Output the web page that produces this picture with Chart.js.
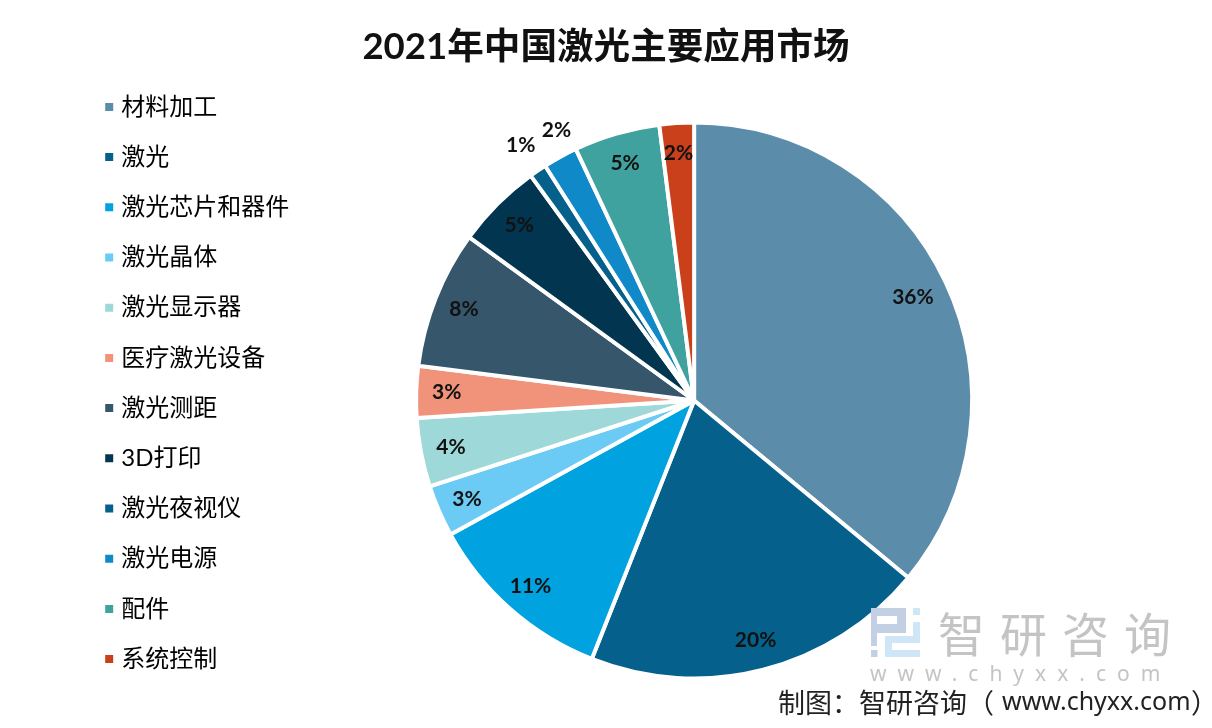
<!DOCTYPE html>
<html lang="zh">
<head>
<meta charset="utf-8">
<title>2021年中国激光主要应用市场</title>
<script src="https://cdn.jsdelivr.net/npm/chart.js@4/dist/chart.umd.min.js"></script>
<style>
  html, body { margin: 0; padding: 0; background: #fff; }
  #wrap { position: relative; width: 1212px; height: 728px; overflow: hidden; }
  #chart { position: absolute; left: 0; top: 0; }
  #logo { position: absolute; left: 870px; top: 608px; }
</style>
</head>
<body>
<div id="wrap">
  <canvas id="chart" width="1212" height="728"></canvas>
  <svg id="logo" width="52" height="52" viewBox="0 0 52 52">
    <path fill-rule="evenodd" d="M1 0H36V25H7V38H1ZM7 8V16H27V8Z" fill="#c3cfe2"/>
    <path d="M1 42H7.5V49H1Z" fill="#c3cfe2"/>
    <path d="M43 0H50V7H43ZM43 14H50V35H22V42H50V49H15V28H43Z" fill="#cfe6f7"/>
  </svg>
</div>
<script>
const categories = ['材料加工', '激光', '激光芯片和器件', '激光晶体', '激光显示器', '医疗激光设备', '激光测距', '3D打印', '激光夜视仪', '激光电源', '配件', '系统控制'];
const shares = [36, 20, 11, 3, 4, 3, 8, 5, 1, 2, 5, 2];
const sliceColors = ['#5b8dab', '#05608b', '#00a3df', '#6bcbf5', '#9fd8d8', '#f0937a', '#35566b', '#013550', '#05608b', '#1089c9', '#40a29f', '#c9401a'];
const outsideLabels = ['激光夜视仪', '激光电源'];

const fontStack = 'Lato, "Noto Sans CJK SC", sans-serif';

const sliceLabels = {
  id: 'sliceLabels',
  afterDatasetsDraw(chart) {
    const { ctx } = chart;
    ctx.save();
    ctx.font = `bold 21px ${fontStack}`;
    ctx.fillStyle = '#111';
    ctx.textAlign = 'center';
    ctx.textBaseline = 'middle';
    chart.getDatasetMeta(0).data.forEach((arc, i) => {
      const mid = (arc.startAngle + arc.endAngle) / 2;
      const outside = outsideLabels.includes(categories[i]);
      const r = arc.outerRadius * (outside ? 1.11 : shares[i] > 30 ? 0.87 : 0.89);
      // the 2% label sits a bit to the right of its slice in the original
      const nudge = categories[i] === '激光电源' ? 11 : 0;
      ctx.fillText(`${shares[i]}%`, arc.x + Math.cos(mid) * r + nudge, arc.y + Math.sin(mid) * r);
    });
    ctx.restore();
  },
};

// title is centred on the whole canvas, not on the padded area
const centreTitle = {
  id: 'centreTitle',
  afterLayout(chart) {
    chart.titleBlock.left = 0;
    chart.titleBlock.right = chart.width;
  },
};

const creditText = {
  id: 'creditText',
  afterDraw(chart) {
    const { ctx } = chart;
    ctx.save();
    ctx.textBaseline = 'middle';
    ctx.fillStyle = '#c4c4c4';
    ctx.font = '47px "Noto Sans CJK SC"';
    ctx.letterSpacing = '15px';
    ctx.fillText('智研咨询', 938, 634);
    ctx.font = '21px "Noto Sans"';
    ctx.letterSpacing = '11px';
    ctx.fillText('www.chyxx.com', 870, 675);
    ctx.fillStyle = '#222';
    ctx.font = '27px "Noto Sans CJK SC"';
    ctx.letterSpacing = '0px';
    ctx.fillText('制图：智研咨询（', 778, 703);
    ctx.font = '25px "Noto Sans"';
    ctx.fillText('www.chyxx.com', 1002, 703);
    ctx.font = '27px "Noto Sans CJK SC"';
    ctx.fillText('）', 1191, 703);
    ctx.restore();
  },
};

new Chart(document.getElementById('chart'), {
  type: 'pie',
  data: {
    labels: categories,
    datasets: [{
      data: shares,
      backgroundColor: sliceColors,
      borderColor: '#fff',
      borderWidth: 4,
      radius: 278,
    }],
  },
  options: {
    responsive: false,
    animation: false,
    layout: { padding: { left: 83, right: 123, top: 38, bottom: 0 } },
    plugins: {
      tooltip: { enabled: false },
      title: {
        display: true,
        text: '2021年中国激光主要应用市场',
        color: '#111',
        font: { family: fontStack, size: 36.6, weight: 'bold', lineHeight: 0.5 },
        padding: { top: 0, bottom: 16.7 },
      },
      legend: {
        position: 'left',
        align: 'center',
        labels: {
          usePointStyle: true,
          pointStyle: 'rect',
          boxWidth: 0.01,
          boxHeight: 8,
          padding: 26.2,
          color: '#222',
          font: { family: fontStack, size: 24 },
          generateLabels: () => categories.map((name, i) => ({
            text: name,
            fillStyle: sliceColors[i],
            strokeStyle: sliceColors[i],
            lineWidth: 0,
            pointStyle: 'rect',
            index: i,
          })),
        },
      },
    },
  },
  plugins: [centreTitle, sliceLabels, creditText],
});
</script>
</body>
</html>
